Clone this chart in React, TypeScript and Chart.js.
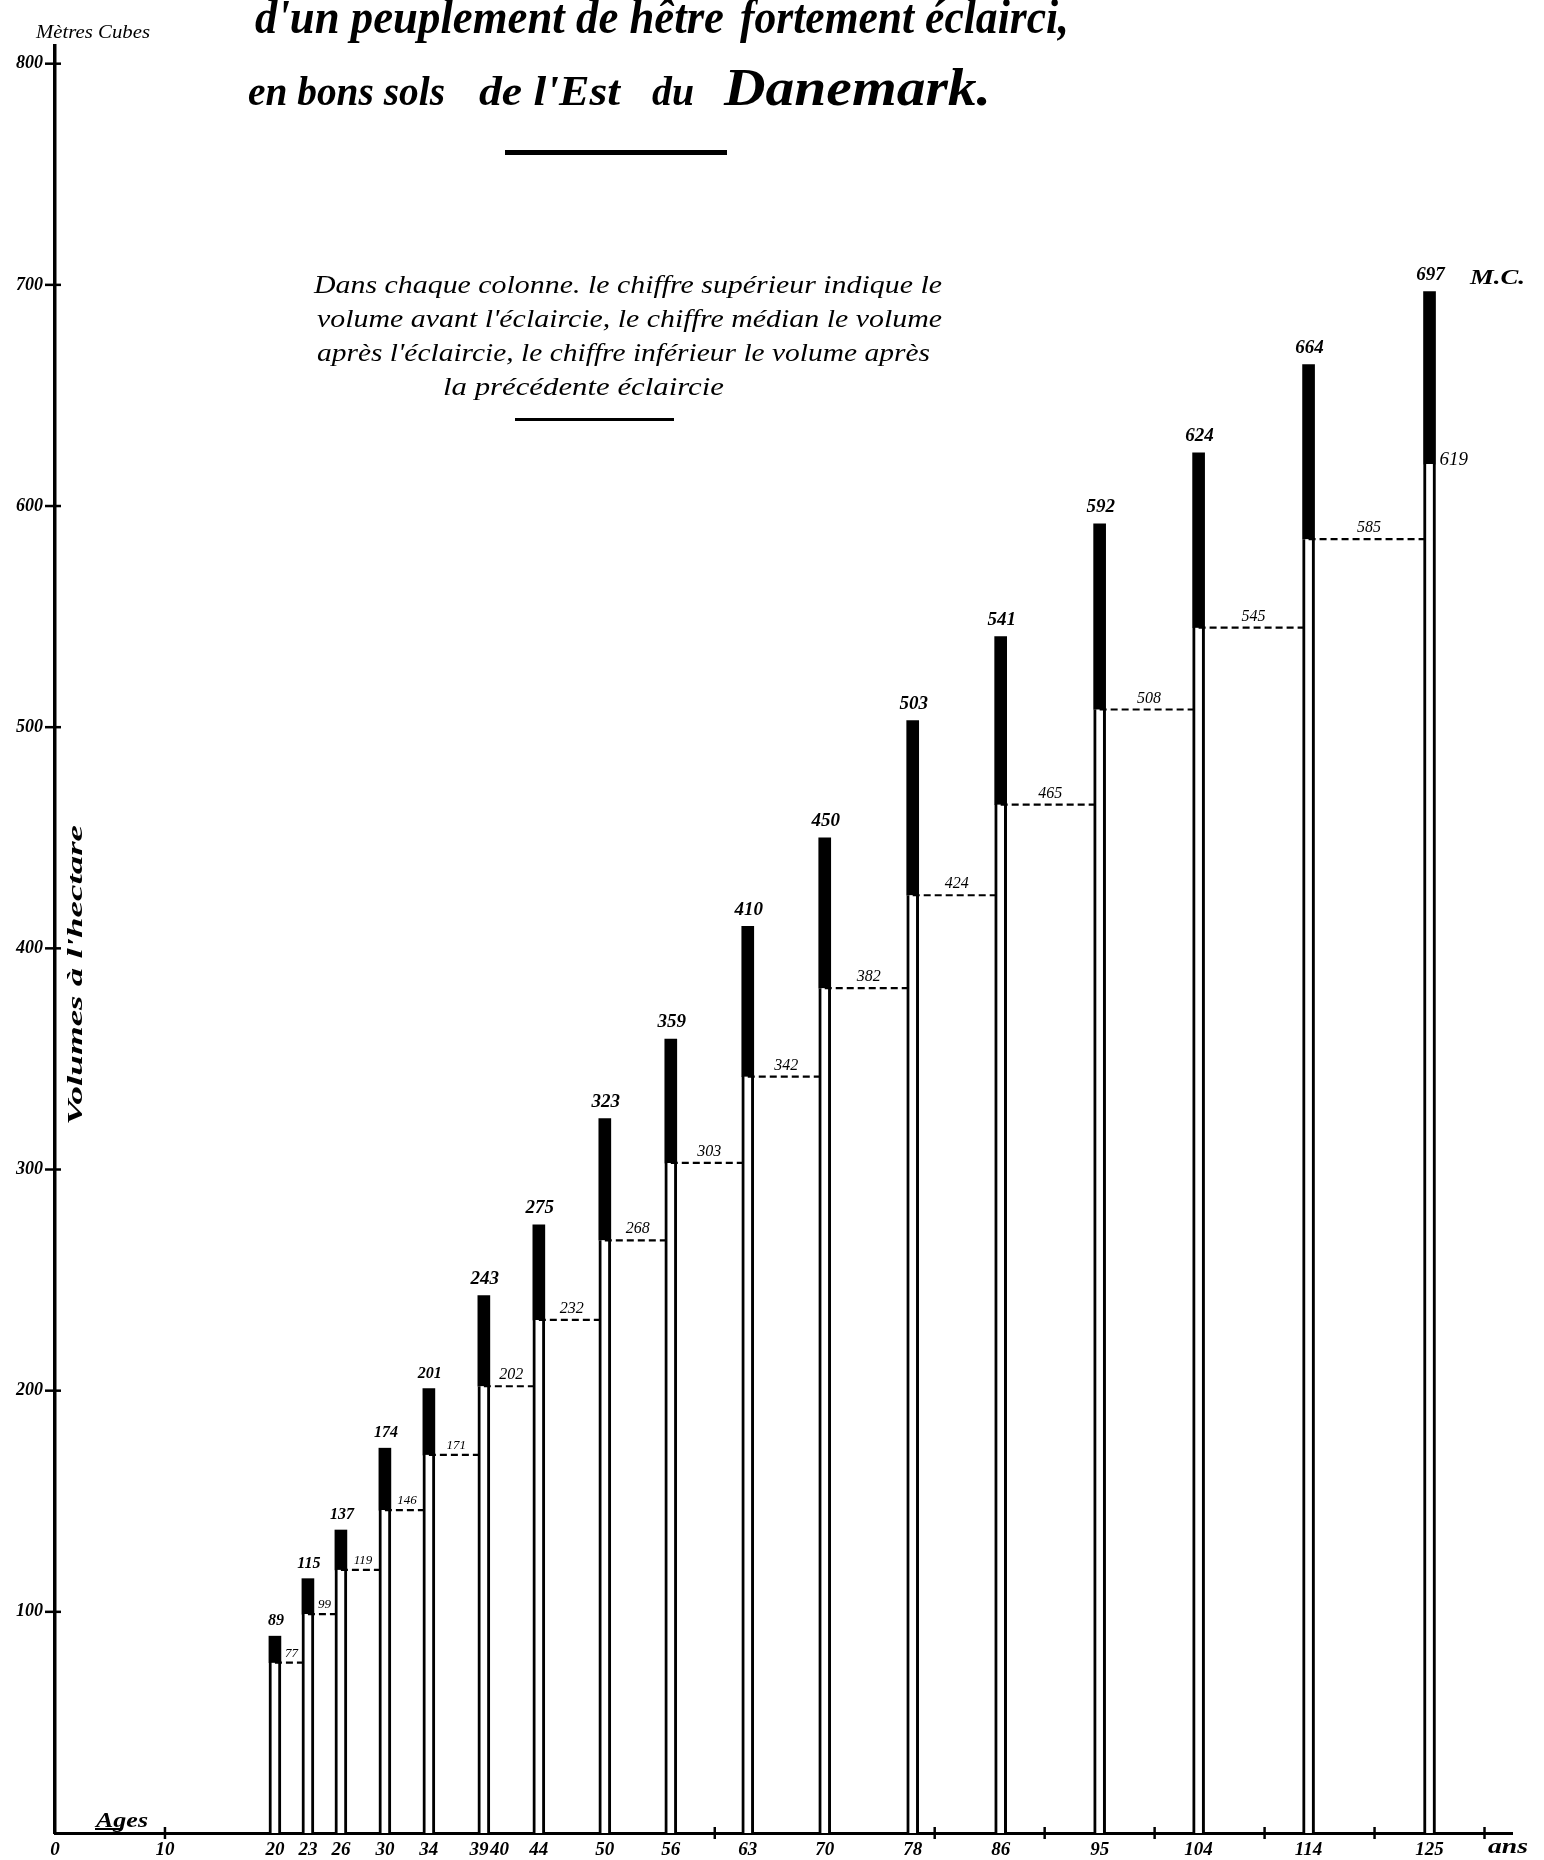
import React, { useEffect, useRef } from 'react';
import { Chart, registerables } from 'chart.js';

Chart.register(...registerables);

// ---- data ----
const ages = [20, 23, 26, 30, 34, 39, 44, 50, 56, 63, 70, 78, 86, 95, 104, 114, 125];
const volumeBefore = [89, 115, 137, 174, 201, 243, 275, 323, 359, 410, 450, 503, 541, 592, 624, 664, 697];
const volumeAfter = [77, 99, 119, 146, 171, 202, 232, 268, 303, 342, 382, 424, 465, 508, 545, 585, 619];
const xTickLabels = [0, 10, 20, 23, 26, 30, 34, 39, 40, 44, 50, 56, 63, 70, 78, 86, 95, 104, 114, 125];
const xAxisMarks = [10, 60, 80, 90, 100, 110, 120, 130];
const yTickLabels = [100, 200, 300, 400, 500, 600, 700, 800];

const W = 1544;
const H = 1860;
const FONT = "'Liberation Serif', 'DejaVu Serif', serif";

const labelPlugin = {
  id: 'volumeLabels',
  afterDatasetsDraw(chart: any) {
    const { ctx, chartArea, scales } = chart;
    const x = scales.x;
    const y = scales.y;
    ctx.save();
    ctx.fillStyle = '#000';
    ctx.strokeStyle = '#000';
    ctx.lineWidth = 2.5;
    // crossing tick marks on the axes
    yTickLabels.forEach((v) => {
      const py = y.getPixelForValue(v);
      ctx.beginPath();
      ctx.moveTo(chartArea.left - 10, py);
      ctx.lineTo(chartArea.left + 6, py);
      ctx.stroke();
    });
    xAxisMarks.forEach((v) => {
      const px = x.getPixelForValue(v);
      ctx.beginPath();
      ctx.moveTo(px, chartArea.bottom - 6);
      ctx.lineTo(px, chartArea.bottom + 6);
      ctx.stroke();
    });
    // value above each column
    ctx.textAlign = 'center';
    ctx.textBaseline = 'bottom';
    ages.forEach((a, i) => {
      const px = x.getPixelForValue(a);
      const py = y.getPixelForValue(volumeBefore[i]);
      const size = i < 5 ? 16 : 19;
      ctx.font = `italic bold ${size}px ${FONT}`;
      ctx.fillText(String(volumeBefore[i]), px + 1, py - 7);
    });
    // value over each dashed line
    ages.forEach((a, i) => {
      const py = y.getPixelForValue(volumeAfter[i]);
      if (i < ages.length - 1) {
        const px = (x.getPixelForValue(a) + x.getPixelForValue(ages[i + 1])) / 2;
        const size = i < 5 ? 13 : 16;
        ctx.font = `italic ${size}px ${FONT}`;
        ctx.textAlign = 'center';
        ctx.textBaseline = 'bottom';
        ctx.fillText(String(volumeAfter[i]), px, py - 3);
      } else {
        ctx.font = `italic 19px ${FONT}`;
        ctx.textAlign = 'left';
        ctx.textBaseline = 'middle';
        ctx.fillText(String(volumeAfter[i]), x.getPixelForValue(a) + 10, py - 4);
      }
    });
    ctx.restore();
  },
};

export default function App() {
  const canvasRef = useRef<HTMLCanvasElement>(null);

  useEffect(() => {
    document.body.style.margin = '0';
    const canvas = canvasRef.current;
    if (!canvas) return;

    const whiteParts = ages.map((a, i) => ({ x: a, y: [0, volumeAfter[i]] }));
    const blackParts = ages.map((a, i) => ({ x: a, y: [volumeAfter[i], volumeBefore[i]] }));
    const dashed: any[] = [];
    for (let i = 0; i < ages.length - 1; i++) {
      dashed.push({ x: ages[i], y: volumeAfter[i] });
      dashed.push({ x: ages[i + 1], y: volumeAfter[i] });
      dashed.push({ x: ages[i + 1], y: null });
    }
    const allXTicks = Array.from(new Set([...xTickLabels, ...xAxisMarks])).sort((p, q) => p - q);

    const chart = new Chart(canvas, {
      type: 'bar',
      data: {
        datasets: [
          {
            type: 'line',
            data: dashed as any,
            borderColor: '#000',
            borderWidth: 2.2,
            borderDash: [7, 4],
            pointRadius: 0,
            spanGaps: false,
            fill: false,
            order: 0,
          } as any,
          {
            data: blackParts as any,
            backgroundColor: '#000',
            borderWidth: 0,
            barThickness: 12,
            grouped: false,
            order: 2,
          } as any,
          {
            data: whiteParts as any,
            backgroundColor: '#fff',
            borderColor: '#000',
            borderWidth: { left: 3, right: 3, top: 0, bottom: 0 },
            borderSkipped: false,
            barThickness: 12,
            grouped: false,
            order: 1,
          } as any,
        ],
      },
      options: {
        responsive: false,
        animation: false,
        layout: { padding: { top: 46, right: 32, left: 0, bottom: 0 } },
        plugins: { legend: { display: false }, tooltip: { enabled: false } },
        scales: {
          x: {
            type: 'linear',
            min: 0,
            max: 132.5,
            offset: false,
            grid: { display: true, drawOnChartArea: false, drawTicks: false, offset: false },
            border: { display: true, color: '#000', width: 3 },
            afterBuildTicks: (scale: any) => {
              scale.ticks = allXTicks.map((v) => ({ value: v }));
            },
            afterFit: (scale: any) => {
              scale.height = 27;
            },
            ticks: {
              autoSkip: false,
              maxRotation: 0,
              padding: 6,
              color: '#000',
              font: { family: FONT, size: 19, style: 'italic', weight: 'bold' },
              callback: (value: any) => {
                const v = Number(value);
                if (!xTickLabels.includes(v)) return '';
                if (v === 39) return '39  ';
                if (v === 40) return '  40';
                return String(v);
              },
            },
          },
          y: {
            type: 'linear',
            min: 0,
            max: 808,
            grid: { display: true, drawOnChartArea: false, drawTicks: false },
            border: { display: true, color: '#000', width: 3.5 },
            afterBuildTicks: (scale: any) => {
              scale.ticks = yTickLabels.map((v) => ({ value: v }));
            },
            afterFit: (scale: any) => {
              scale.width = 55;
            },
            ticks: {
              padding: 12,
              color: '#000',
              font: { family: FONT, size: 18, style: 'italic', weight: 'bold' },
              callback: (value: any) => String(value),
            },
          },
        },
      } as any,
      plugins: [labelPlugin],
    });

    return () => chart.destroy();
  }, []);

  const t = { fontFamily: FONT, fontStyle: 'italic' as const, fill: '#000' };

  return (
    <div style={{ position: 'relative', width: W, height: H, background: '#fff', overflow: 'hidden' }}>
      <canvas
        ref={canvasRef}
        width={W}
        height={H}
        style={{ position: 'absolute', left: 0, top: 0, width: W, height: H }}
      />
      <svg
        width={W}
        height={H}
        style={{ position: 'absolute', left: 0, top: 0, pointerEvents: 'none' }}
      >
        <text {...t} x={36} y={38} fontSize={18} textLength={114} lengthAdjust="spacingAndGlyphs">
          Mètres Cubes
        </text>
        <text {...t} x={255} y={33} fontSize={48} fontWeight="bold" textLength={469} lengthAdjust="spacingAndGlyphs">
          d'un peuplement de hêtre
        </text>
        <text {...t} x={740} y={33} fontSize={48} fontWeight="bold" textLength={329} lengthAdjust="spacingAndGlyphs">
          fortement éclairci,
        </text>
        <text {...t} x={248} y={105} fontSize={42} fontWeight="bold" textLength={197} lengthAdjust="spacingAndGlyphs">
          en bons sols
        </text>
        <text {...t} x={479} y={105} fontSize={42} fontWeight="bold" textLength={141} lengthAdjust="spacingAndGlyphs">
          de l'Est
        </text>
        <text {...t} x={652} y={105} fontSize={42} fontWeight="bold" textLength={42} lengthAdjust="spacingAndGlyphs">
          du
        </text>
        <text {...t} x={724} y={105} fontSize={52} fontWeight="bold" textLength={267} lengthAdjust="spacingAndGlyphs">
          Danemark.
        </text>
        <rect x={505} y={150} width={222} height={5} fill="#000" />

        <text {...t} x={314} y={293} fontSize={25} textLength={628} lengthAdjust="spacingAndGlyphs">
          Dans chaque colonne. le chiffre supérieur indique le
        </text>
        <text {...t} x={317} y={327} fontSize={25} textLength={625} lengthAdjust="spacingAndGlyphs">
          volume avant l'éclaircie, le chiffre médian le volume
        </text>
        <text {...t} x={317} y={361} fontSize={25} textLength={613} lengthAdjust="spacingAndGlyphs">
          après l'éclaircie, le chiffre inférieur le volume après
        </text>
        <text {...t} x={443} y={395} fontSize={25} textLength={281} lengthAdjust="spacingAndGlyphs">
          la précédente éclaircie
        </text>
        <rect x={515} y={418} width={159} height={3} fill="#000" />

        <text
          {...t}
          transform="translate(82,975) rotate(-90)"
          x={0}
          y={0}
          textAnchor="middle"
          fontSize={22}
          fontWeight="bold"
          textLength={300}
          lengthAdjust="spacingAndGlyphs"
        >
          Volumes à l'hectare
        </text>

        <text {...t} x={1470} y={284} fontSize={22} fontWeight="bold" textLength={55} lengthAdjust="spacingAndGlyphs">
          M.C.
        </text>
        <text {...t} x={96} y={1827} fontSize={21} fontWeight="bold" textLength={52} lengthAdjust="spacingAndGlyphs">
          Ages
        </text>
        <rect x={95} y={1828} width={26} height={2} fill="#000" />
        <text {...t} x={1488} y={1853} fontSize={21} fontWeight="bold" textLength={40} lengthAdjust="spacingAndGlyphs">
          ans
        </text>
      </svg>
    </div>
  );
}
